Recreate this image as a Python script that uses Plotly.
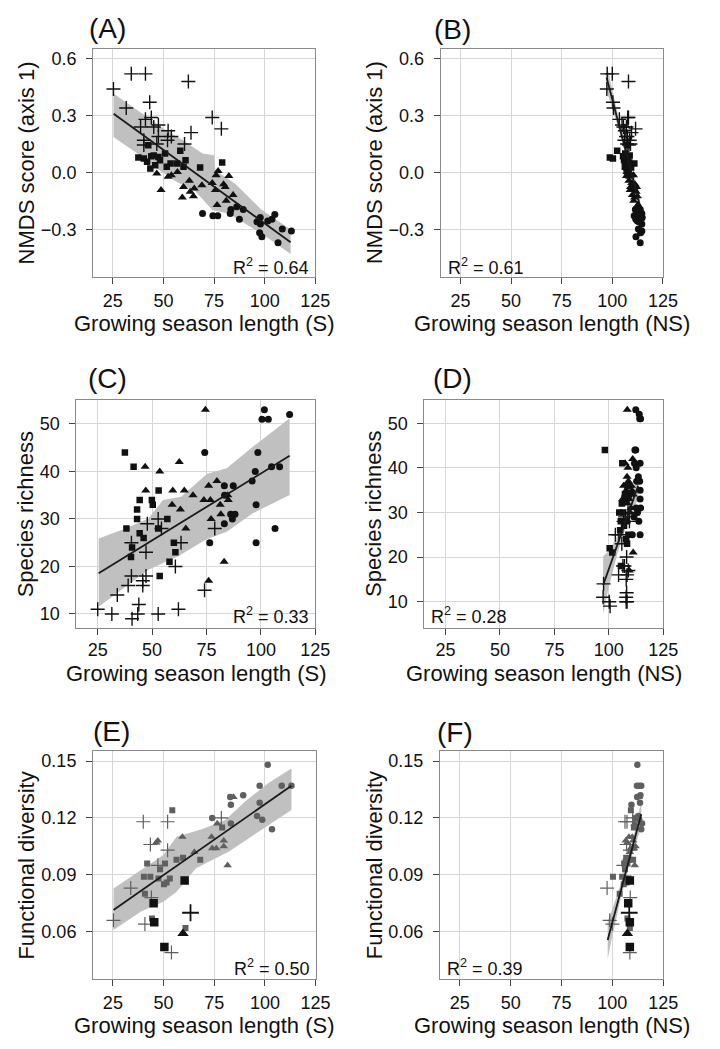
import plotly.graph_objects as go

W, H = 720, 1049

# ---------------- NMDS axis 1 (panels A, B) ----------------
nmds_plus_y  = [0.44, 0.52, 0.52, 0.48, 0.34, 0.37, 0.28, 0.24, 0.29, 0.25, 0.24, 0.22, 0.19, 0.19, 0.15, 0.17, 0.145, 0.17, 0.15, 0.21, 0.29, 0.23]
nmds_plus_S  = [25.3, 34.1, 41.1, 62.3, 31.6, 43.2, 41.1, 38.7, 44.0, 47.5, 45.2, 52.3, 53.9, 47.5, 46.7, 40.3, 40.3, 52.0, 60.4, 63.6, 74.1, 78.6]
nmds_plus_NS = [97.3, 97.5, 100.0, 108.0, 100.6, 100.3, 103.5, 105.5, 108.0, 104.8, 107.0, 106.2, 107.5, 106.8, 107.3, 106.0, 108.2, 108.6, 109.0, 109.5, 107.6, 111.5]

nmds_sq_y  = [0.144, 0.079, 0.074, 0.056, 0.086, 0.082, 0.038, 0.021, 0.100, 0.030, 0.047, 0.114, 0.065, 0.030, 0.026, 0.053, 0.065, 0.090, 0.047]
nmds_sq_S  = [42.5, 37.6, 40.3, 41.9, 44.0, 47.5, 45.9, 43.5, 50.8, 51.6, 53.5, 58.3, 60.9, 59.9, 68.1, 79.0, 48.3, 45.2, 56.7]
nmds_sq_NS = [107.5, 98.8, 100.3, 106.5, 105.3, 107.2, 108.0, 107.0, 106.4, 108.8, 110.9, 102.4, 107.8, 106.2, 109.3, 108.4, 105.8, 108.6, 107.4]

nmds_tri_y  = [-0.005, -0.093, -0.023, -0.015, 0.003, -0.132, -0.076, -0.044, -0.102, -0.084, -0.125, -0.067, -0.055, -0.014, 0.008, -0.093, -0.062, -0.076, -0.172, -0.019, -0.149, -0.119]
nmds_tri_S  = [46.7, 48.8, 52.3, 53.9, 56.9, 59.3, 59.9, 62.8, 63.2, 65.2, 64.8, 69.0, 74.1, 76.0, 77.0, 75.7, 79.7, 80.5, 76.5, 82.3, 81.0, 84.4]
nmds_tri_NS = [107.8, 110.2, 108.6, 110.5, 107.2, 111.0, 109.0, 108.2, 111.8, 110.8, 112.4, 110.0, 109.6, 109.2, 108.0, 108.8, 111.2, 112.0, 112.6, 107.0, 110.6, 109.9]

nmds_cir_y  = [-0.216, -0.228, -0.228, -0.195, -0.216, -0.181, -0.247, -0.195, -0.260, -0.237, -0.318, -0.339, -0.256, -0.247, -0.221, -0.272, -0.370, -0.298, -0.309]
nmds_cir_S  = [69.3, 74.4, 76.8, 83.3, 83.0, 86.2, 87.5, 89.4, 96.2, 97.8, 97.5, 98.6, 101.5, 103.6, 105.0, 97.9, 106.6, 108.7, 113.2]
nmds_cir_NS = [112.0, 113.4, 110.8, 113.8, 114.6, 112.8, 111.6, 111.4, 113.2, 114.8, 114.0, 111.7, 112.4, 114.2, 113.0, 114.6, 113.8, 112.9, 114.6]

nmds_fit_S_x = [25.4, 112.8]
nmds_fit_S_y = [0.31, -0.368]
nmds_bandS_up_x = [25.3, 37.1, 50.0, 59.6, 69.3, 75.0, 75.7, 85.4, 98.3, 112.8]
nmds_bandS_up_y = [0.416, 0.328, 0.232, 0.170, 0.100, 0.091, 0.012, -0.060, -0.195, -0.300]
nmds_bandS_lo_x = [25.3, 37.1, 46.7, 56.4, 66.0, 74.1, 82.1, 98.3, 112.8]
nmds_bandS_lo_y = [0.187, 0.100, 0.021, -0.049, -0.102, -0.198, -0.216, -0.321, -0.430]

nmds_fit_NS_x = [97.2, 113.5]
nmds_fit_NS_y = [0.50, -0.168]
nmds_bandNS_x  = [97.2, 100.0, 104.0, 108.0, 111.0, 113.5]
nmds_bandNS_up = [0.571, 0.431, 0.247, 0.078, -0.035, -0.120]
nmds_bandNS_lo = [0.431, 0.341, 0.197, 0.038, -0.095, -0.215]

# ---------------- Species richness (panels C, D) ----------------
rich_plus_y  = [11, 10, 14, 16, 18, 9, 10, 12, 16, 18, 17, 10, 11, 25, 23, 29, 30, 28, 25, 20, 15, 28]
rich_plus_S  = [25.0, 31.5, 34.0, 39.0, 40.5, 40.8, 43.4, 43.9, 45.7, 47.2, 45.7, 52.8, 62.1, 40.5, 47.2, 47.8, 52.8, 54.3, 63.3, 60.7, 74.1, 78.8]
rich_plus_NS = [97.4, 100.2, 97.6, 104.5, 106.5, 100.6, 108.0, 108.2, 108.4, 107.2, 109.0, 108.4, 108.0, 103.0, 106.0, 107.5, 108.8, 106.8, 104.6, 108.2, 108.0, 109.5]

rich_sq_y  = [44, 41, 28, 34, 32, 30, 24, 22, 27, 26, 34, 33, 36, 28, 30, 25, 23, 21, 18]
rich_sq_S  = [37.5, 41.5, 38.2, 44.3, 43.1, 43.1, 40.8, 40.3, 44.3, 46.1, 49.9, 50.3, 53.0, 52.8, 57.0, 60.0, 60.7, 58.0, 53.5]
rich_sq_NS = [98.2, 106.2, 105.5, 107.4, 106.0, 104.8, 108.0, 100.4, 107.0, 105.2, 109.2, 108.2, 108.6, 107.8, 106.6, 109.0, 108.4, 101.6, 105.6]

rich_tri_y  = [53, 41, 40, 42, 36, 36, 36, 35, 37, 38, 34, 34, 33, 34, 35, 33, 32, 31, 30, 28, 21, 17]
rich_tri_S  = [74.5, 46.8, 53.5, 62.5, 47.1, 59.5, 64.8, 68.8, 76.0, 79.8, 73.8, 76.8, 81.3, 85.0, 84.8, 59.2, 63.0, 81.6, 77.1, 65.5, 83.1, 76.0]
rich_tri_NS = [108.5, 107.5, 108.8, 111.0, 106.8, 109.6, 110.4, 108.0, 109.0, 108.4, 110.0, 107.6, 109.4, 111.2, 110.6, 106.4, 108.6, 110.2, 109.8, 108.2, 111.2, 109.4]

rich_cir_y  = [53, 51, 51, 52, 44, 44, 40, 41, 41, 38, 37, 37, 35, 31, 31, 30, 29, 33, 25, 25, 28]
rich_cir_S  = [101.6, 100.5, 103.4, 113.2, 74.2, 98.6, 97.4, 104.9, 108.6, 96.0, 83.2, 87.3, 83.3, 86.1, 88.1, 86.9, 83.2, 97.8, 76.5, 97.8, 106.5]
rich_cir_NS = [112.4, 114.2, 114.6, 114.0, 112.4, 112.0, 112.6, 114.4, 111.8, 113.6, 114.2, 112.8, 114.4, 112.6, 114.6, 113.2, 111.6, 114.4, 114.4, 110.8, 113.8]

rich_fit_S_x = [25.45, 113.2]
rich_fit_S_y = [18.57, 43.3]
rich_bandS_up_x = [25.45, 37.75, 48.3, 55.0, 63.3, 75.3, 84.3, 96.3, 113.2]
rich_bandS_up_y = [25.9, 28.0, 30.1, 34.0, 34.7, 39.5, 40.7, 45.2, 51.2]
rich_bandS_lo_x = [25.45, 37.75, 48.3, 61.8, 74.5, 84.3, 96.3, 113.2]
rich_bandS_lo_y = [11.5, 15.7, 19.3, 22.1, 25.6, 27.3, 31.2, 35.05]

rich_fit_NS_x = [97.4, 113.5]
rich_fit_NS_y = [13.7, 36.0]
rich_bandNS_x  = [97.4, 100.0, 104.0, 108.0, 111.0, 113.5]
rich_bandNS_up = [20.2, 21.3, 24.8, 29.9, 34.5, 39.0]
rich_bandNS_lo = [7.2, 13.3, 20.8, 26.9, 30.5, 33.0]

# ---------------- Functional diversity (panels E, F) ----------------
fd_cir_y  = [0.148, 0.137, 0.137, 0.137, 0.132, 0.131, 0.127, 0.128, 0.120, 0.117, 0.121, 0.119, 0.114]
fd_cir_S  = [101.4, 97.4, 108.3, 113.1, 89.3, 82.9, 83.2, 97.4, 74.0, 83.2, 96.1, 98.7, 103.5]
fd_cir_NS = [112.3, 112.1, 114.2, 113.2, 113.8, 112.2, 109.4, 113.6, 111.2, 114.6, 112.8, 113.2, 114.2]

fd_sq_y  = [0.124, 0.096, 0.096, 0.098, 0.099, 0.098, 0.089, 0.089, 0.088, 0.088, 0.086, 0.085, 0.080, 0.067, 0.062, 0.115, 0.093]
fd_sq_S  = [54.3, 41.9, 50.7, 56.4, 59.6, 68.1, 40.3, 43.5, 47.5, 53.1, 51.5, 50.2, 40.8, 44.3, 60.8, 78.9, 48.3]
fd_sq_NS = [109.1, 105.8, 107.4, 108.6, 106.8, 110.2, 100.3, 104.8, 106.4, 108.0, 107.0, 105.6, 103.6, 107.4, 108.6, 110.6, 106.2]

fd_tri_y  = [0.108, 0.107, 0.110, 0.117, 0.110, 0.104, 0.104, 0.108, 0.105, 0.095, 0.102, 0.131]
fd_tri_S  = [47.2, 46.4, 59.3, 76.5, 73.7, 74.0, 76.0, 79.7, 79.7, 81.6, 65.2, 84.5]
fd_tri_NS = [106.6, 107.4, 108.2, 111.0, 109.8, 110.6, 109.0, 110.2, 111.4, 111.0, 108.6, 113.0]

fd_plus_y  = [0.066, 0.083, 0.118, 0.118, 0.106, 0.103, 0.095, 0.064, 0.049, 0.120, 0.078]
fd_plus_S  = [25.3, 33.8, 40.0, 52.0, 43.5, 52.0, 47.2, 40.8, 53.9, 78.5, 44.0]
fd_plus_NS = [98.7, 97.4, 106.2, 107.2, 107.0, 108.6, 105.4, 100.0, 108.6, 110.0, 108.8]

fd_blk_sq_y  = [0.087, 0.075, 0.065, 0.052]
fd_blk_sq_S  = [60.4, 45.1, 45.4, 50.4]
fd_blk_sq_NS = [108.6, 107.8, 108.6, 108.6]
fd_blk_tri_y, fd_blk_tri_S, fd_blk_tri_NS = [0.059], [59.6], [107.4]
fd_blk_plus_y, fd_blk_plus_S, fd_blk_plus_NS = [0.070], [63.3], [108.3]

fd_fit_S_x = [25.3, 113.1]
fd_fit_S_y = [0.0714, 0.1370]
fd_bandS_up_x = [25.3, 38.7, 49.9, 56.4, 69.2, 80.5, 90.1, 101.4, 113.1]
fd_bandS_up_y = [0.0828, 0.0925, 0.1004, 0.1101, 0.1141, 0.1189, 0.1285, 0.1382, 0.1461]
fd_bandS_lo_x = [25.3, 38.7, 49.9, 56.4, 66.0, 82.1, 98.2, 113.1]
fd_bandS_lo_y = [0.0609, 0.0705, 0.0758, 0.0811, 0.0934, 0.1022, 0.1136, 0.1242]

fd_fit_NS_x = [97.7, 114.2]
fd_fit_NS_y = [0.0556, 0.1219]
fd_bandNS_x  = [97.7, 100.0, 104.0, 108.0, 111.0, 114.2]
fd_bandNS_up = [0.0656, 0.0718, 0.0849, 0.1000, 0.1130, 0.1289]
fd_bandNS_lo = [0.0456, 0.0578, 0.0769, 0.0940, 0.1050, 0.1149]

x_ticks = [25, 50, 75, 100, 125]
nmds_ticks, nmds_ticktext = [-0.3, 0.0, 0.3, 0.6], ["\u22120.3", "0.0", "0.3", "0.6"]
rich_ticks = [10, 20, 30, 40, 50]
fd_ticks, fd_ticktext = [0.06, 0.09, 0.12, 0.15], ["0.06", "0.09", "0.12", "0.15"]

# ---------------- styling ----------------
FONT = "Liberation Sans, Arial, Helvetica, sans-serif"
BLACK = "#111111"
GREY = "#5f5f5f"
BAND = "#c0c0c0"
GRID = "#d6d6d6"
BORDER = "#8a8a8a"

# panel pixel boxes: (left, right, top, bottom)
boxes = {
    1: (95, 322, 49, 277),
    2: (450, 677, 49, 277),
    3: (78, 322, 400, 627.7),
    4: (433.3, 677.3, 400, 627.7),
    5: (95, 322.3, 751, 979.3),
    6: (449.3, 677.3, 751, 979.3),
}
xr = [15.2, 125]
yranges = {1: [-0.551, 0.651], 2: [-0.551, 0.651], 3: [7.1, 55.05], 4: [4.17, 55.2],
           5: [0.0349, 0.1553], 6: [0.0349, 0.1553]}

fig = go.Figure()

def ax(i):
    return ("x" if i == 1 else f"x{i}"), ("y" if i == 1 else f"y{i}")

def band(i, ux, uy, lx, ly):
    xa, ya = ax(i)
    fig.add_trace(go.Scatter(x=list(ux) + list(lx)[::-1], y=list(uy) + list(ly)[::-1],
                             fill="toself", fillcolor=BAND, line=dict(width=0),
                             mode="lines", hoverinfo="skip", showlegend=False, xaxis=xa, yaxis=ya))

def pts(i, x, y, symbol, color, size, lw=0):
    xa, ya = ax(i)
    m = dict(symbol=symbol, size=size, color=color)
    if symbol.endswith("thin"):
        m["line"] = dict(color=color, width=lw)
    else:
        m["line"] = dict(width=0)
    fig.add_trace(go.Scatter(x=x, y=y, mode="markers", marker=m, showlegend=False,
                             xaxis=xa, yaxis=ya))

def fit(i, x, y):
    xa, ya = ax(i)
    fig.add_trace(go.Scatter(x=x, y=y, mode="lines", line=dict(color="#1a1a1a", width=1.8),
                             showlegend=False, xaxis=xa, yaxis=ya))

# Panel A
band(1, nmds_bandS_up_x, nmds_bandS_up_y, nmds_bandS_lo_x, nmds_bandS_lo_y)
pts(1, nmds_plus_S, nmds_plus_y, "cross-thin", BLACK, 10, 1.4)
pts(1, nmds_sq_S, nmds_sq_y, "square", BLACK, 6.5)
pts(1, nmds_tri_S, nmds_tri_y, "triangle-up", BLACK, 8)
pts(1, nmds_cir_S, nmds_cir_y, "circle", BLACK, 7)
fit(1, nmds_fit_S_x, nmds_fit_S_y)
# Panel B
band(2, nmds_bandNS_x, nmds_bandNS_up, nmds_bandNS_x, nmds_bandNS_lo)
pts(2, nmds_plus_NS, nmds_plus_y, "cross-thin", BLACK, 10, 1.4)
pts(2, nmds_sq_NS, nmds_sq_y, "square", BLACK, 6.5)
pts(2, nmds_tri_NS, nmds_tri_y, "triangle-up", BLACK, 8)
pts(2, nmds_cir_NS, nmds_cir_y, "circle", BLACK, 7)
fit(2, nmds_fit_NS_x, nmds_fit_NS_y)
# Panel C
band(3, rich_bandS_up_x, rich_bandS_up_y, rich_bandS_lo_x, rich_bandS_lo_y)
pts(3, rich_plus_S, rich_plus_y, "cross-thin", BLACK, 10, 1.4)
pts(3, rich_sq_S, rich_sq_y, "square", BLACK, 6.5)
pts(3, rich_tri_S, rich_tri_y, "triangle-up", BLACK, 8)
pts(3, rich_cir_S, rich_cir_y, "circle", BLACK, 7)
fit(3, rich_fit_S_x, rich_fit_S_y)
# Panel D
band(4, rich_bandNS_x, rich_bandNS_up, rich_bandNS_x, rich_bandNS_lo)
pts(4, rich_plus_NS, rich_plus_y, "cross-thin", BLACK, 10, 1.4)
pts(4, rich_sq_NS, rich_sq_y, "square", BLACK, 6.5)
pts(4, rich_tri_NS, rich_tri_y, "triangle-up", BLACK, 8)
pts(4, rich_cir_NS, rich_cir_y, "circle", BLACK, 7)
fit(4, rich_fit_NS_x, rich_fit_NS_y)
# Panel E
band(5, fd_bandS_up_x, fd_bandS_up_y, fd_bandS_lo_x, fd_bandS_lo_y)
pts(5, fd_plus_S, fd_plus_y, "cross-thin", GREY, 10, 1.2)
pts(5, fd_sq_S, fd_sq_y, "square", GREY, 6)
pts(5, fd_tri_S, fd_tri_y, "triangle-up", GREY, 7.5)
pts(5, fd_cir_S, fd_cir_y, "circle", GREY, 6.5)
pts(5, fd_blk_sq_S, fd_blk_sq_y, "square", BLACK, 8.5)
pts(5, fd_blk_tri_S, fd_blk_tri_y, "triangle-up", BLACK, 10)
pts(5, fd_blk_plus_S, fd_blk_plus_y, "cross-thin", BLACK, 12, 1.8)
fit(5, fd_fit_S_x, fd_fit_S_y)
# Panel F
band(6, fd_bandNS_x, fd_bandNS_up, fd_bandNS_x, fd_bandNS_lo)
pts(6, fd_plus_NS, fd_plus_y, "cross-thin", GREY, 10, 1.2)
pts(6, fd_sq_NS, fd_sq_y, "square", GREY, 6)
pts(6, fd_tri_NS, fd_tri_y, "triangle-up", GREY, 7.5)
pts(6, fd_cir_NS, fd_cir_y, "circle", GREY, 6.5)
pts(6, fd_blk_sq_NS, fd_blk_sq_y, "square", BLACK, 8.5)
pts(6, fd_blk_tri_NS, fd_blk_tri_y, "triangle-up", BLACK, 10)
pts(6, fd_blk_plus_NS, fd_blk_plus_y, "cross-thin", BLACK, 12, 1.8)
fit(6, fd_fit_NS_x, fd_fit_NS_y)

layout = dict(width=W, height=H, margin=dict(l=0, r=0, t=0, b=0),
              paper_bgcolor="white", plot_bgcolor="white", showlegend=False,
              font=dict(family=FONT, color="#111111"))

common = dict(showgrid=True, gridcolor=GRID, gridwidth=1.4, zeroline=False,
              showline=True, linecolor=BORDER, linewidth=1, mirror=True,
              ticks="outside", ticklen=6, tickwidth=1, tickcolor="#444444",
              tickfont=dict(size=18, family=FONT, color="#111111"), fixedrange=True)

for i, (l, r, t, b) in boxes.items():
    xa, ya = ax(i)
    xkey = "xaxis" if i == 1 else f"xaxis{i}"
    ykey = "yaxis" if i == 1 else f"yaxis{i}"
    layout[xkey] = dict(common, domain=[l / W, r / W], anchor=ya, range=xr,
                        tickmode="array", tickvals=x_ticks,
                        ticklabelstandoff=0 if i in (3, 4) else 1)
    yd = dict(common, domain=[1 - b / H, 1 - t / H], anchor=xa, range=yranges[i],
              tickmode="array", ticklabelstandoff=6)
    if i in (1, 2):
        yd.update(tickvals=nmds_ticks, ticktext=nmds_ticktext)
    elif i in (3, 4):
        yd.update(tickvals=rich_ticks, ticktext=[str(v) for v in rich_ticks])
    else:
        yd.update(tickvals=fd_ticks, ticktext=fd_ticktext)
    layout[ykey] = yd

fig.update_layout(**layout)

def ann(text, px, py, size, xanchor="center", yanchor="middle", angle=0):
    fig.add_annotation(text=text, x=px / W, y=1 - py / H, xref="paper", yref="paper",
                       showarrow=False, xanchor=xanchor, yanchor=yanchor, textangle=angle,
                       font=dict(size=size, family=FONT, color="#111111"))

labels = ["(A)", "(B)", "(C)", "(D)", "(E)", "(F)"]
label_pos = [(89, 28), (441, 30), (88, 378), (440, 378), (93, 731), (444, 732)]
for lab, (px, py) in zip(labels, label_pos):
    ann(lab, px, py, 28, xanchor="left")

ytitles = ["NMDS score (axis 1)", "NMDS score (axis 1)", "Species richness", "Species richness",
           "Functional diversity", "Functional diversity"]
ytitle_x = [28, 383, 26, 382, 27, 382]
xtitles = ["Growing season length (S)", "Growing season length (NS)"] * 3
xtitle_y = [323, 323, 673, 673, 1025, 1025]
for i, (l, r, t, b) in boxes.items():
    ann(ytitles[i - 1], ytitle_x[i - 1], (t + b) / 2, 22, angle=-90)
    ann(xtitles[i - 1], (l + r) / 2, xtitle_y[i - 1], 22)

r2 = ["0.64", "0.61", "0.33", "0.28", "0.50", "0.39"]
r2_right = {1: True, 2: False, 3: True, 4: False, 5: True, 6: False}
r2_y = [267, 267, 615, 615, 967, 967]
for i, (l, r, t, b) in boxes.items():
    txt = "R<sup>2</sup> = " + r2[i - 1]
    if r2_right[i]:
        ann(txt, r - 4, r2_y[i - 1], 18, xanchor="right")
    else:
        ann(txt, l + 5, r2_y[i - 1], 18, xanchor="left")

fig.write_html("out.html", config={"displayModeBar": False},
               post_script="document.body.style.margin='0px';")
